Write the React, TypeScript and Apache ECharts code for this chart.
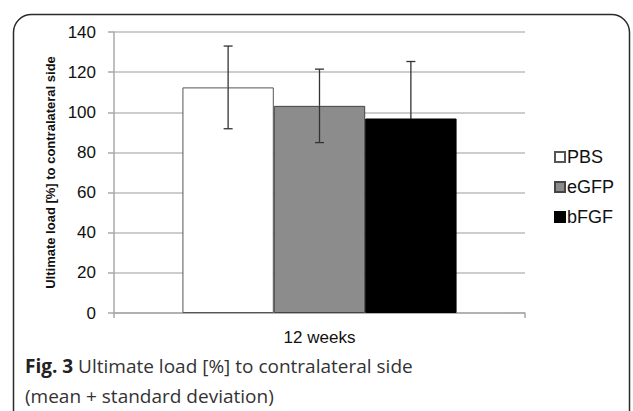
import React, { useEffect, useRef } from "react";
import * as echarts from "echarts";

const categories = ["12 weeks"];
const seriesNames = ["PBS", "eGFP", "bFGF"];
const means = [112.4, 103.2, 96.9];
const sds = [20.6, 18.3, 28.4];
const yTicks = { min: 0, max: 140, interval: 20 };
const yAxisTitle = "Ultimate load [%] to contralateral side";
const captionBold = "Fig. 3";
const captionLine1 = " Ultimate load [%] to contralateral side";
const captionLine2 = "(mean + standard deviation)";

const barColors = ["#ffffff", "#8c8c8c", "#000000"];
const barBorders = ["#555555", "#444444", "#000000"];
const errLowerColors = ["#333333", "#333333", "#000000"];
const CAT_GAP = 0.333;

export default function App() {
  const ref = useRef<HTMLDivElement>(null);
  useEffect(() => {
    if (!ref.current) return;
    const chart = echarts.init(ref.current, null, { renderer: "svg" });
    const font = "Liberation Sans, Arial, sans-serif";
    const barSeries = seriesNames.map((name, i) => ({
      name,
      type: "bar",
      data: [means[i]],
      barGap: "0%",
      barCategoryGap: "33.3%",
      itemStyle: { color: barColors[i], borderColor: barBorders[i], borderWidth: 1 },
      z: 2,
    }));
    const errData = seriesNames.map((_, i) => [0, means[i], means[i] - sds[i], means[i] + sds[i], i]);
    const errSeries = {
      type: "custom",
      name: "err",
      z: 5,
      silent: true,
      data: errData,
      encode: { x: 0, y: [2, 3] },
      renderItem: (params: any, api: any) => {
        const cat = api.value(0);
        const mean = api.value(1);
        const lo = api.value(2);
        const hi = api.value(3);
        const idx = api.value(4);
        const band = api.size([1, 0])[0];
        const bw = (band * (1 - CAT_GAP)) / 3;
        const center = api.coord([cat, 0])[0];
        const x = center + (idx - 1) * bw;
        const yHi = api.coord([cat, hi])[1];
        const yLo = api.coord([cat, lo])[1];
        const yMean = api.coord([cat, mean])[1];
        const cap = 4.5;
        const style = { stroke: "#333333", lineWidth: 1.3 };
        const lowStyle = { stroke: errLowerColors[idx], lineWidth: 1.3 };
        return {
          type: "group",
          children: [
            { type: "line", shape: { x1: x, y1: yHi, x2: x, y2: yMean }, style },
            { type: "line", shape: { x1: x, y1: yMean, x2: x, y2: yLo }, style: lowStyle },
            { type: "line", shape: { x1: x - cap, y1: yHi, x2: x + cap, y2: yHi }, style },
            { type: "line", shape: { x1: x - cap, y1: yLo, x2: x + cap, y2: yLo }, style: lowStyle },
          ],
        };
      },
    };
    chart.setOption({
      animation: false,
      backgroundColor: "#ffffff",
      textStyle: { fontFamily: font },
      grid: { left: 114, right: 108, top: 32, bottom: 98 },
      legend: {
        data: seriesNames,
        orient: "vertical",
        left: 549,
        top: 143,
        itemWidth: 10,
        itemHeight: 10,
        itemGap: 12,
        icon: "rect",
        textStyle: { fontSize: 18, color: "#111", fontFamily: font, padding: [0, 0, 0, -3] },
      },
      xAxis: {
        type: "category",
        data: categories,
        axisLine: { lineStyle: { color: "#a8a8a8", width: 1.5 } },
        axisTick: { show: true, length: 5, lineStyle: { color: "#a8a8a8", width: 1.5 } },
        axisLabel: { fontSize: 17, color: "#111", margin: 16, fontFamily: font },
      },
      yAxis: {
        type: "value",
        min: yTicks.min,
        max: yTicks.max,
        interval: yTicks.interval,
        name: yAxisTitle,
        nameLocation: "middle",
        nameGap: 57,
        nameTextStyle: { fontSize: 13, fontWeight: "bold", color: "#111", fontFamily: font },
        axisLine: { show: true, lineStyle: { color: "#a8a8a8", width: 1.5 } },
        axisTick: { show: true, length: 6, lineStyle: { color: "#a8a8a8", width: 1.5 } },
        axisLabel: { fontSize: 17, color: "#111", margin: 18, fontFamily: font },
        splitLine: { lineStyle: { color: "#bdbdbd", width: 1.5 } },
      },
      series: [...barSeries, errSeries],
      graphic: [
        {
          type: "rect",
          shape: { x: 13.5, y: 14.5, width: 616, height: 430, r: 18 },
          style: { fill: "none", stroke: "#2b2b2b", lineWidth: 1.5 },
          silent: true,
        },
        {
          type: "text",
          left: 25,
          top: 356,
          style: {
            text: "{b|" + captionBold + "}{r|" + captionLine1 + "}",
            rich: {
              b: { fontFamily: "Open Sans, sans-serif", fontSize: 19, fontWeight: "bold", fill: "#222" },
              r: { fontFamily: "Open Sans, sans-serif", fontSize: 19, fill: "#333" },
            },
          },
        },
        {
          type: "text",
          left: 25,
          top: 386,
          style: { text: captionLine2, fontFamily: "Open Sans, sans-serif", fontSize: 19, fill: "#333" },
        },
      ],
    });
    return () => chart.dispose();
  }, []);
  return (
    <div
      ref={ref}
      style={{ position: "fixed", left: 0, top: 0, width: 633, height: 411 }}
    />
  );
}
